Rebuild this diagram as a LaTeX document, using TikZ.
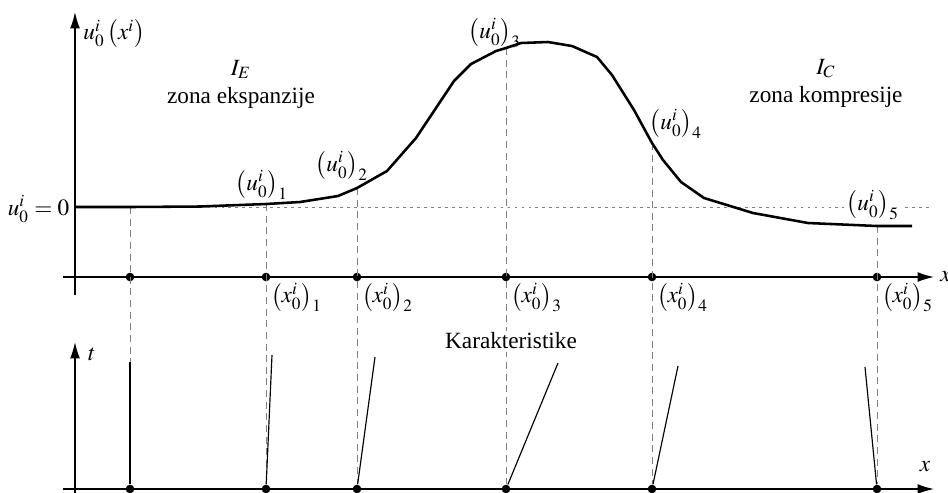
\documentclass[tikz,border=0pt]{standalone}
\usepackage{mathptmx}
\usepackage{fontspec}
\setmainfont{Liberation Serif}
\usetikzlibrary{arrows.meta, positioning}

\begin{document}
\begin{tikzpicture}[x=0.43pt, y=-0.43pt, >={Latex[length=7pt, width=4.2pt]}, font=\normalsize,
    axis/.style={->, line width=0.6pt},
    guide/.style={gray, line width=0.4pt, dash pattern=on 3pt off 2pt},
    charline/.style={line width=0.5pt},
    pt/.style={circle, fill, inner sep=0pt, minimum size=3.7pt},
    lbl/.style={inner sep=1pt}]
    \useasboundingbox (0,0) rectangle (948,492);

    % Upper axes
    \coordinate (xa0) at (63,277);
    \coordinate (xa1) at (934,277);
    \coordinate (ya0) at (75,295);
    \coordinate (ya1) at (75,12);
    \coordinate (z0) at (75,207);
    \coordinate (z1) at (932,207);
    \draw[gray, line width=0.4pt, dash pattern=on 1.2pt off 1.8pt] (z0) -- (z1);
    \draw[axis] (xa0) -- (xa1);
    \draw[axis] (ya0) -- (ya1);
    \node[anchor=west, inner sep=0pt] (xlab) at (940,277) {$x$};
    \node[anchor=west, inner sep=0pt] (ulab) at (83,34) {$u_0^i\left(x^i\right)$};
    \node[anchor=east, inner sep=1pt] (zlab) at (72,209) {$u_0^i=0$};

    % Lower axes
    \coordinate (xb0) at (63,489);
    \coordinate (xb1) at (934,489);
    \coordinate (yb0) at (75,496);
    \coordinate (yb1) at (75,342);
    \draw[axis] (xb0) -- (xb1);
    \draw[axis] (yb0) -- (yb1);
    \node (tlab) at (92,354) {$t$};
    \node (xblab) at (925,467) {$x$};

    % Points on the curve and on the axes
    \coordinate (c0) at (130,207);
    \coordinate (c1) at (266,204);
    \coordinate (c2) at (357,188);
    \coordinate (c3) at (506,48);
    \coordinate (c4) at (652,143);
    \coordinate (c5) at (877,226);
    \foreach \i/\px in {0/130, 1/266, 2/357, 3/506, 4/652, 5/877} {
        \node[pt] (p\i) at (\px,277) {};
        \node[pt] (q\i) at (\px,489) {};
        \draw[guide] (c\i) -- (q\i);
    }

    % Initial profile u_0
    \node[lbl, fill=white] (u5) at (873,205) {$\left(u_0^i\right)_5$};
    \draw[line width=1.1pt, line join=round]
        (75,207) -- (c0) -- (200,206.5) -- (c1) -- (300,202) -- (338,196) -- (c2)
        -- (387,171) -- (416,138) -- (436,108) -- (454,81) -- (471,64) -- (496,51) -- (c3)
        -- (521,43) -- (548,42) -- (572,46) -- (597,57) -- (612,75) -- (634,110) -- (c4)
        -- (663,160) -- (681,182) -- (704,198) -- (753,213) -- (808,223) -- (c5) -- (912,226);

    % Characteristics
    \coordinate (k0) at (130,362);
    \coordinate (k1) at (272,355);
    \coordinate (k2) at (375,357);
    \coordinate (k3) at (558,363);
    \coordinate (k4) at (678,366);
    \coordinate (k5) at (865,367);
    \foreach \i in {0,...,5} {
        \draw[charline] (q\i) -- (k\i);
    }
    \node[lbl, fill=white] (kar) at (511,341) {Karakteristike};

    % Labels of the points
    \node[lbl] (u1) at (262,185) {$\left(u_0^i\right)_1$};
    \node[lbl] (u2) at (342,166) {$\left(u_0^i\right)_2$};
    \node[lbl] (u3) at (495,33) {$\left(u_0^i\right)_3$};
    \node[lbl] (u4) at (676,124) {$\left(u_0^i\right)_4$};
    \node[below right=0.5pt and 0pt of p1, inner sep=0.5pt] (x1) {$\left(x_0^i\right)_1$};
    \node[below right=0.5pt and 0pt of p2, inner sep=0.5pt] (x2) {$\left(x_0^i\right)_2$};
    \node[below right=0.5pt and 0pt of p3, inner sep=0.5pt] (x3) {$\left(x_0^i\right)_3$};
    \node[below right=0.5pt and 0pt of p4, inner sep=0.5pt] (x4) {$\left(x_0^i\right)_4$};
    \node[below right=0.5pt and 0pt of p5, inner sep=0.5pt] (x5) {$\left(x_0^i\right)_5$};

    % Zones
    \node[align=center] (ze) at (241,84) {$I_E$\\zona ekspanzije};
    \node[align=center] (zc) at (826,83) {$I_C$\\zona kompresije};
\end{tikzpicture}
\end{document}
